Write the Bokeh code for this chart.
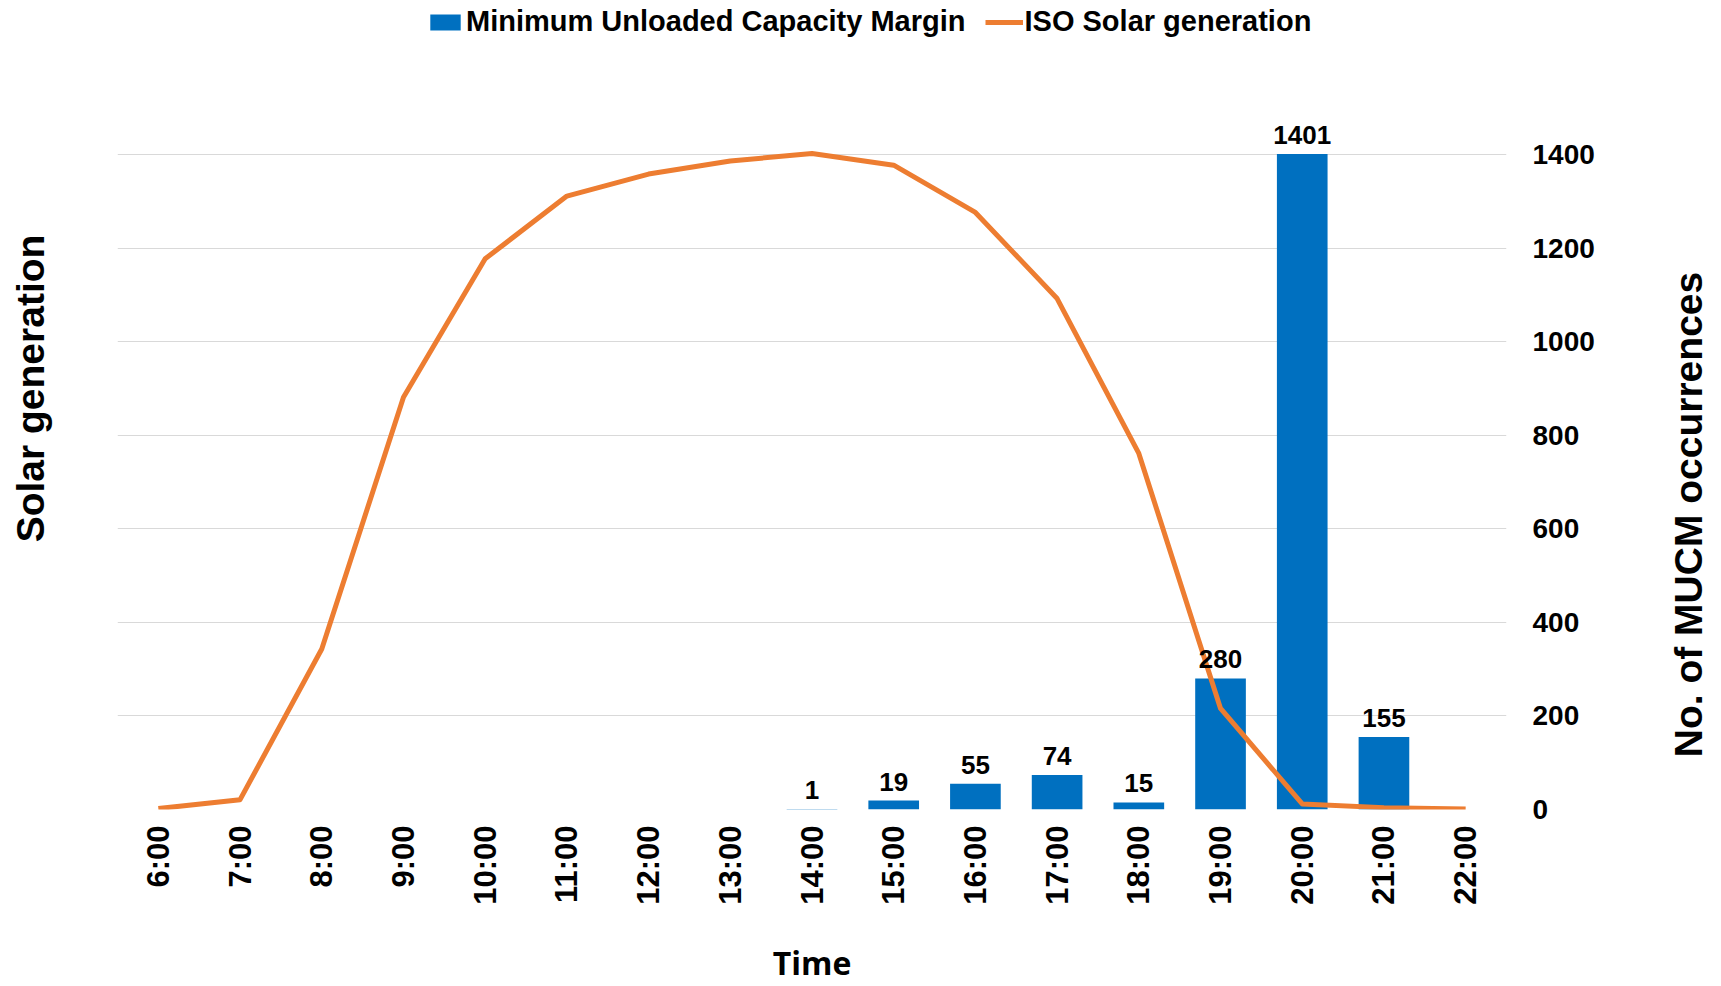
import math
from bokeh.plotting import figure
from bokeh.layouts import row
from bokeh.models import (ColumnDataSource, FactorRange, Range1d, FixedTicker,
                          Legend, LegendItem)
from bokeh.core.properties import value
from bokeh.embed import file_html
from bokeh.resources import INLINE

hours = ["6:00", "7:00", "8:00", "9:00", "10:00", "11:00", "12:00", "13:00",
         "14:00", "15:00", "16:00", "17:00", "18:00", "19:00", "20:00", "21:00", "22:00"]
mucm = [0, 0, 0, 0, 0, 0, 0, 0, 1, 19, 55, 74, 15, 280, 1401, 155, 0]
solar = [2, 21, 343, 881, 1177, 1311, 1358, 1386, 1402, 1377, 1276, 1092, 761, 216, 12, 4, 1]
y_ticks = [0, 200, 400, 600, 800, 1000, 1200, 1400]

FONT = "Liberation Sans"
BAR_COLOR = "#0070C0"
LINE_COLOR = "#ED7D31"

H = 986
WL, WM, WR = 60, 1580, 81          # left title strip, main chart, right title strip
FL, FR, FT, FB = 57, 134, 0, 177   # borders of the main chart
FH = H - FT - FB                   # frame height

src = ColumnDataSource(dict(hour=hours, mucm=mucm, solar=solar))
lbl_idx = [i for i, v in enumerate(mucm) if v > 0]
lbl_src = ColumnDataSource(dict(hour=[hours[i] for i in lbl_idx],
                                mucm=[mucm[i] for i in lbl_idx],
                                lbl=[str(mucm[i]) for i in lbl_idx]))

p = figure(width=WM, height=H, x_range=FactorRange(*hours), y_range=Range1d(0, 1729),
           output_backend="svg", toolbar_location=None, y_axis_location="right",
           min_border_left=FL, min_border_right=FR, min_border_top=FT, min_border_bottom=FB)
p.outline_line_color = None
p.background_fill_color = "white"
p.border_fill_color = "white"

p.xgrid.grid_line_color = None
p.ygrid.ticker = FixedTicker(ticks=y_ticks)
p.ygrid.grid_line_color = "#D9D9D9"
p.ygrid.grid_line_width = 1

yax = p.yaxis[0]
yax.ticker = FixedTicker(ticks=y_ticks)
yax.axis_line_color = None
yax.major_tick_line_color = None
yax.minor_tick_line_color = None
yax.major_label_standoff = 20
yax.major_label_text_font = FONT
yax.major_label_text_font_style = "bold"
yax.major_label_text_font_size = "28px"
yax.major_label_text_color = "black"

xax = p.xaxis[0]
xax.axis_line_color = None
xax.major_tick_line_color = None
xax.minor_tick_line_color = None
xax.major_label_orientation = math.pi / 2
xax.major_label_standoff = 10
xax.major_label_text_font = FONT
xax.major_label_text_font_style = "bold"
xax.major_label_text_font_size = "31px"
xax.major_label_text_color = "black"
xax.axis_label = "Time"
xax.axis_label_standoff = 33
xax.axis_label_text_font = "Open Sans"
xax.axis_label_text_font_style = "bold"
xax.axis_label_text_font_size = "32px"
xax.axis_label_text_color = "black"

bars = p.vbar(x="hour", top="mucm", width=0.62, source=src,
              fill_color=BAR_COLOR, line_color=None)
line = p.line(x="hour", y="solar", source=src, line_color=LINE_COLOR,
              line_width=5, line_join="round")
p.text(x="hour", y="mucm", text="lbl", source=lbl_src, text_align="center",
       text_baseline="bottom", y_offset=-10, text_font=value(FONT),
       text_font_style="bold", text_font_size="26px", text_color="black")

legend = Legend(items=[LegendItem(label="Minimum Unloaded Capacity Margin", renderers=[bars]),
                       LegendItem(label="ISO Solar generation", renderers=[line])],
                orientation="horizontal", location=(309, 771),
                border_line_color=None, background_fill_alpha=0,
                glyph_width=38, glyph_height=20, label_standoff=2, spacing=19,
                padding=0, margin=0, label_text_font=FONT,
                label_text_font_style="bold", label_text_font_size="29px",
                label_text_color="black")
p.add_layout(legend)


def title_strip(width, text, cx, cy):
    # frame of the strip spans the same vertical extent as the main chart's frame
    f = figure(width=width, height=H, x_range=Range1d(0, width), y_range=Range1d(0, FH),
               output_backend="svg", toolbar_location=None,
               x_axis_location=None, y_axis_location=None,
               min_border_left=0, min_border_right=0, min_border_top=FT, min_border_bottom=FB)
    f.outline_line_color = None
    f.grid.grid_line_color = None
    f.background_fill_color = "white"
    f.border_fill_color = "white"
    f.text(x=[cx], y=[FT + FH - cy], text=[text], angle=math.pi / 2, text_align="center",
           text_baseline="middle", text_font=value(FONT), text_font_style="bold",
           text_font_size="39px", text_color="black")
    return f


left_strip = title_strip(WL, "Solar generation", 30, 388)
right_strip = title_strip(WR, "No. of MUCM occurrences", 48, 514)

layout = row(left_strip, p, right_strip, spacing=0)

open("out.html", "w").write(file_html(layout, INLINE))
